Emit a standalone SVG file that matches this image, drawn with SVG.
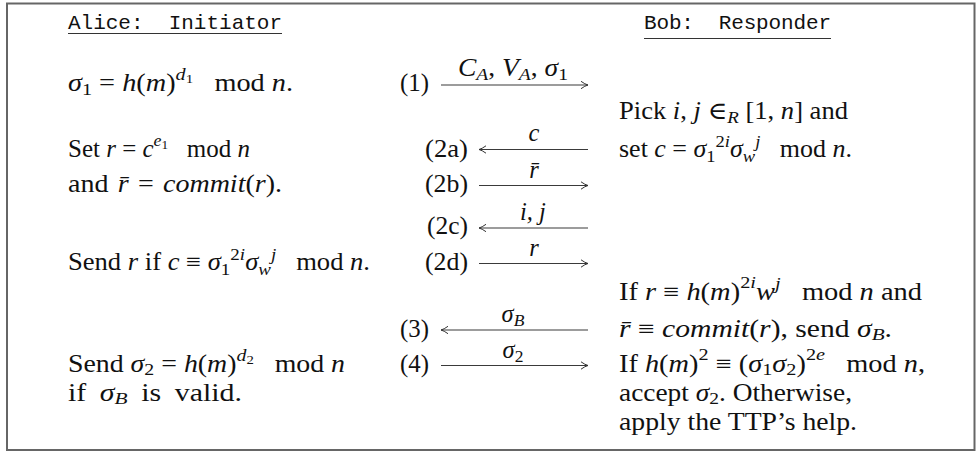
<svg xmlns="http://www.w3.org/2000/svg" width="977" height="453" viewBox="0 0 977 453">
<style>
.t{font-family:"Liberation Serif","DejaVu Serif",serif;font-size:24.5px;fill:#111}
.i{font-style:italic}
.s{font-size:17.5px}
.ss{font-size:13px}
.tt{font-family:"Liberation Mono","DejaVu Sans Mono",monospace;font-size:21px;fill:#111}
.ul{stroke:#333;stroke-width:1.2}
.ar{stroke:#3a3a3a;stroke-width:1.1;fill:none;marker-end:url(#ah)}
</style>
<defs>
<marker id="ah" markerWidth="12" markerHeight="12" refX="10" refY="6" orient="auto" markerUnits="userSpaceOnUse">
<path d="M3,2.3 Q7,5.2 10,6 Q7,6.8 3,9.7" fill="none" stroke="#333" stroke-width="1"/>
</marker>
</defs>
<rect x="7" y="3.5" width="967.5" height="446.5" fill="#fff" stroke="#666" stroke-width="2"/>

<g id="alice-header">
<text class="tt" x="68" y="29" textLength="214" lengthAdjust="spacing" xml:space="preserve">Alice:  Initiator</text>
<line class="ul" x1="68" y1="33.5" x2="282" y2="33.5"/>
</g>
<g id="bob-header">
<text class="tt" x="644" y="29" textLength="187" lengthAdjust="spacing" xml:space="preserve">Bob:  Responder</text>
<line class="ul" x1="644" y1="38.5" x2="831" y2="38.5"/>
</g>

<g id="alice">
<text class="t" x="68" y="91" textLength="225" lengthAdjust="spacingAndGlyphs" xml:space="preserve"><tspan class="i">σ</tspan><tspan class="s" dy="3.5">1</tspan><tspan dy="-3.5"> = </tspan><tspan class="i">h</tspan>(<tspan class="i">m</tspan>)<tspan class="s i" dy="-11">d</tspan><tspan class="ss" dy="3">1</tspan><tspan dy="8">   mod </tspan><tspan class="i">n</tspan>.</text>
<text class="t" x="68" y="156.5" textLength="182" lengthAdjust="spacingAndGlyphs" xml:space="preserve">Set <tspan class="i">r</tspan> = <tspan class="i">c</tspan><tspan class="s i" dy="-11">e</tspan><tspan class="ss" dy="3">1</tspan><tspan dy="8">   mod </tspan><tspan class="i">n</tspan></text>
<text class="t" x="68" y="191.5" textLength="214" lengthAdjust="spacingAndGlyphs" word-spacing="2" xml:space="preserve">and <tspan class="i">r̄</tspan> = <tspan class="i">commit</tspan>(<tspan class="i">r</tspan>).</text>
<text class="t" x="68" y="269.5" textLength="302" lengthAdjust="spacingAndGlyphs" xml:space="preserve">Send <tspan class="i">r</tspan> if <tspan class="i">c</tspan> ≡ <tspan class="i">σ</tspan><tspan class="s" dy="5">1</tspan><tspan class="s" dy="-15">2</tspan><tspan class="s i">i</tspan><tspan class="i" dy="10">σ</tspan><tspan class="s i" dy="5">w</tspan><tspan class="s i" dy="-15">j</tspan><tspan dy="10">   mod </tspan><tspan class="i">n</tspan>.</text>
<text class="t" x="68" y="371.5" textLength="277" lengthAdjust="spacingAndGlyphs" xml:space="preserve">Send <tspan class="i">σ</tspan><tspan class="s" dy="3">2</tspan><tspan dy="-3"> = </tspan><tspan class="i">h</tspan>(<tspan class="i">m</tspan>)<tspan class="s i" dy="-11">d</tspan><tspan class="ss" dy="3">2</tspan><tspan dy="8">   mod </tspan><tspan class="i">n</tspan></text>
<text class="t" x="68" y="401" textLength="174" lengthAdjust="spacingAndGlyphs" word-spacing="5" xml:space="preserve">if <tspan class="i">σ</tspan><tspan class="s i" dy="3">B</tspan><tspan dy="-3"> is valid.</tspan></text>
</g>

<g id="bob">
<text class="t" x="619" y="118.5" textLength="229" lengthAdjust="spacingAndGlyphs" xml:space="preserve">Pick <tspan class="i">i</tspan>, <tspan class="i">j</tspan> ∈<tspan class="s i" dy="4">R</tspan><tspan dy="-4"> [1, </tspan><tspan class="i">n</tspan>] and</text>
<text class="t" x="619" y="156.5" textLength="233" lengthAdjust="spacingAndGlyphs" xml:space="preserve">set <tspan class="i">c</tspan> = <tspan class="i">σ</tspan><tspan class="s" dy="5">1</tspan><tspan class="s" dy="-15">2</tspan><tspan class="s i">i</tspan><tspan class="i" dy="10">σ</tspan><tspan class="s i" dy="5">w</tspan><tspan class="s i" dy="-15">j</tspan><tspan dy="10">   mod </tspan><tspan class="i">n</tspan>.</text>
<text class="t" x="619" y="300" textLength="303" lengthAdjust="spacingAndGlyphs" xml:space="preserve">If <tspan class="i">r</tspan> ≡ <tspan class="i">h</tspan>(<tspan class="i">m</tspan>)<tspan class="s" dy="-12">2</tspan><tspan class="s i">i</tspan><tspan class="i" dy="12">w</tspan><tspan class="s i" dy="-11">j</tspan><tspan dy="11">   mod </tspan><tspan class="i">n</tspan> and</text>
<text class="t" x="619" y="336.5" textLength="273" lengthAdjust="spacingAndGlyphs" xml:space="preserve"><tspan class="i">r̄</tspan> ≡ <tspan class="i">commit</tspan>(<tspan class="i">r</tspan>), send <tspan class="i">σ</tspan><tspan class="s i" dy="3.5">B</tspan><tspan dy="-3.5">.</tspan></text>
<text class="t" x="619" y="371.5" textLength="306" lengthAdjust="spacingAndGlyphs" xml:space="preserve">If <tspan class="i">h</tspan>(<tspan class="i">m</tspan>)<tspan class="s" dy="-12">2</tspan><tspan dy="12"> ≡ (</tspan><tspan class="i">σ</tspan><tspan class="s" dy="3">1</tspan><tspan class="i" dy="-3">σ</tspan><tspan class="s" dy="3">2</tspan><tspan dy="-3">)</tspan><tspan class="s" dy="-12">2</tspan><tspan class="s i">e</tspan><tspan dy="12">   mod </tspan><tspan class="i">n</tspan>,</text>
<text class="t" x="619" y="401" textLength="233" lengthAdjust="spacingAndGlyphs" xml:space="preserve">accept <tspan class="i">σ</tspan><tspan class="s" dy="3">2</tspan><tspan dy="-3">. Otherwise,</tspan></text>
<text class="t" x="619" y="429.5" textLength="238" lengthAdjust="spacingAndGlyphs" xml:space="preserve">apply the TTP’s help.</text>
</g>

<g id="steps">
<text class="t" x="400" y="91" textLength="29" lengthAdjust="spacingAndGlyphs">(1)</text>
<text class="t" x="425" y="156.5" textLength="43" lengthAdjust="spacingAndGlyphs">(2a)</text>
<text class="t" x="425" y="191.5" textLength="43" lengthAdjust="spacingAndGlyphs">(2b)</text>
<text class="t" x="427" y="234" textLength="41" lengthAdjust="spacingAndGlyphs">(2c)</text>
<text class="t" x="425" y="269.5" textLength="43" lengthAdjust="spacingAndGlyphs">(2d)</text>
<text class="t" x="400" y="336.5" textLength="29" lengthAdjust="spacingAndGlyphs">(3)</text>
<text class="t" x="400" y="371.5" textLength="29" lengthAdjust="spacingAndGlyphs">(4)</text>
</g>

<g id="connectors">
<line class="ar" x1="441" y1="85" x2="588" y2="85"/>
<line class="ar" x1="588" y1="149.5" x2="479" y2="149.5"/>
<line class="ar" x1="479" y1="185.5" x2="588" y2="185.5"/>
<line class="ar" x1="588" y1="228" x2="479" y2="228"/>
<line class="ar" x1="479" y1="263.5" x2="588" y2="263.5"/>
<line class="ar" x1="588" y1="330" x2="441" y2="330"/>
<line class="ar" x1="441" y1="365.5" x2="588" y2="365.5"/>
<text class="t" x="513" y="76" text-anchor="middle" textLength="110" lengthAdjust="spacingAndGlyphs" xml:space="preserve"><tspan class="i">C</tspan><tspan class="s i" dy="4">A</tspan><tspan dy="-4">, </tspan><tspan class="i">V</tspan><tspan class="s i" dy="4">A</tspan><tspan dy="-4">, </tspan><tspan class="i">σ</tspan><tspan class="s" dy="4">1</tspan></text>
<text class="t i" x="534" y="141" text-anchor="middle">c</text>
<text class="t i" x="534" y="177.5" text-anchor="middle">r̄</text>
<text class="t i" x="533" y="219.5" text-anchor="middle" xml:space="preserve">i, j</text>
<text class="t i" x="534" y="255.5" text-anchor="middle">r</text>
<text class="t" x="513" y="322" text-anchor="middle"><tspan class="i">σ</tspan><tspan class="s i" dy="4">B</tspan></text>
<text class="t" x="513" y="357.5" text-anchor="middle"><tspan class="i">σ</tspan><tspan class="s" dy="4">2</tspan></text>
</g>
</svg>
